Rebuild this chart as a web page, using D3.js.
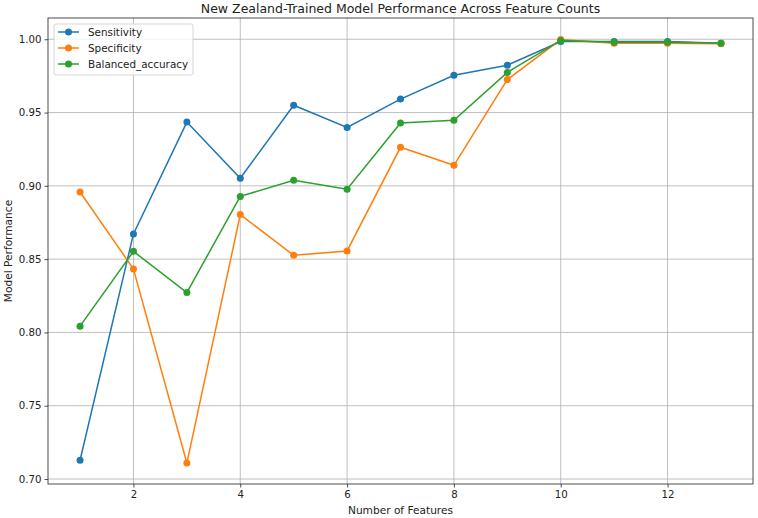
<!DOCTYPE html>
<html><head><meta charset="utf-8">
<script src="https://cdn.jsdelivr.net/npm/d3@7"></script>
<style>body{margin:0;background:#fff}svg{font-family:"DejaVu Sans",sans-serif}</style>
</head><body>
<script>
const features = [1,2,3,4,5,6,7,8,9,10,11,12,13];
const sensitivity = [0.7128,0.8672,0.9435,0.9052,0.9550,0.9398,0.9592,0.9754,0.9823,0.9985,0.9985,0.9985,0.9973];
const specificity = [0.8958,0.8433,0.7109,0.8804,0.8526,0.8556,0.9263,0.9140,0.9725,0.9998,0.9972,0.9972,0.9970];
const balanced = [0.8043,0.8553,0.8272,0.8928,0.9038,0.8977,0.9428,0.9447,0.9774,0.9992,0.9979,0.9979,0.9972];
const seriesNames = ["Sensitivity","Specificity","Balanced_accuracy"];
const colors = ["#1f77b4","#ff7f0e","#2ca02c"];
const xTicks = [2,4,6,8,10,12];
const yTicks = [0.70,0.75,0.80,0.85,0.90,0.95,1.00];

const W=758,H=518, L=48,R=753,T=18,B=484;
const svg=d3.select("body").append("svg").attr("width",W).attr("height",H);
const x=d3.scaleLinear().domain([0.4,13.6]).range([L,R]);
const y=d3.scaleLinear().domain([0.6966,1.0145]).range([B,T]);

// grid
svg.append("g").selectAll("line").data(xTicks).join("line")
 .attr("x1",d=>x(d)).attr("x2",d=>x(d)).attr("y1",T).attr("y2",B)
 .attr("stroke","#b0b0b0").attr("stroke-width",0.8);
svg.append("g").selectAll("line").data(yTicks).join("line")
 .attr("x1",L).attr("x2",R).attr("y1",d=>y(d)).attr("y2",d=>y(d))
 .attr("stroke","#b0b0b0").attr("stroke-width",0.8);

// axes
const xa=svg.append("g").attr("transform",`translate(0,${B})`)
 .call(d3.axisBottom(x).tickValues(xTicks).tickFormat(d3.format("d")).tickSize(3.5).tickPadding(3));
const ya=svg.append("g").attr("transform",`translate(${L},0)`)
 .call(d3.axisLeft(y).tickValues(yTicks).tickFormat(d3.format(".2f")).tickSize(3.5).tickPadding(3));
[xa,ya].forEach(a=>{a.select(".domain").remove();
 a.selectAll("text").attr("font-size",10.2).attr("fill","#222").attr("font-family","DejaVu Sans");
 a.selectAll("line").attr("stroke","#222").attr("stroke-width",0.8);});

const data=[sensitivity,specificity,balanced];
const line=d3.line().x((d,i)=>x(features[i])).y(d=>y(d));
data.forEach((s,k)=>{
 svg.append("path").attr("d",line(s)).attr("fill","none").attr("stroke",colors[k]).attr("stroke-width",1.5);
 svg.append("g").selectAll("circle").data(s).join("circle")
  .attr("cx",(d,i)=>x(features[i])).attr("cy",d=>y(d)).attr("r",3.5).attr("fill",colors[k]);
});

// frame
svg.append("rect").attr("x",L).attr("y",T).attr("width",R-L).attr("height",B-T)
 .attr("fill","none").attr("stroke","#222").attr("stroke-width",0.8);

// title & labels
svg.append("text").attr("x",(L+R)/2).attr("y",13).attr("text-anchor","middle")
 .attr("font-size",12.5).attr("fill","#222").text("New Zealand-Trained Model Performance Across Feature Counts");
svg.append("text").attr("x",(L+R)/2).attr("y",514).attr("text-anchor","middle")
 .attr("font-size",10.6).attr("fill","#222").text("Number of Features");
svg.append("text").attr("transform",`translate(12,${(T+B)/2}) rotate(-90)`).attr("text-anchor","middle")
 .attr("font-size",10.6).attr("fill","#222").text("Model Performance");

// legend
const lg=svg.append("g");
lg.append("rect").attr("x",54).attr("y",24).attr("width",139).attr("height",51).attr("rx",2)
 .attr("fill","#fff").attr("fill-opacity",0.8).attr("stroke","#ccc").attr("stroke-width",0.8);
seriesNames.forEach((n,k)=>{
 const yy=32+k*16;
 lg.append("line").attr("x1",58).attr("x2",79).attr("y1",yy).attr("y2",yy).attr("stroke",colors[k]).attr("stroke-width",1.5);
 lg.append("circle").attr("cx",68.5).attr("cy",yy).attr("r",3.5).attr("fill",colors[k]);
 lg.append("text").attr("x",88).attr("y",yy+3.7).attr("font-size",10.4).attr("fill","#222").text(n);
});
</script>
</body></html>
